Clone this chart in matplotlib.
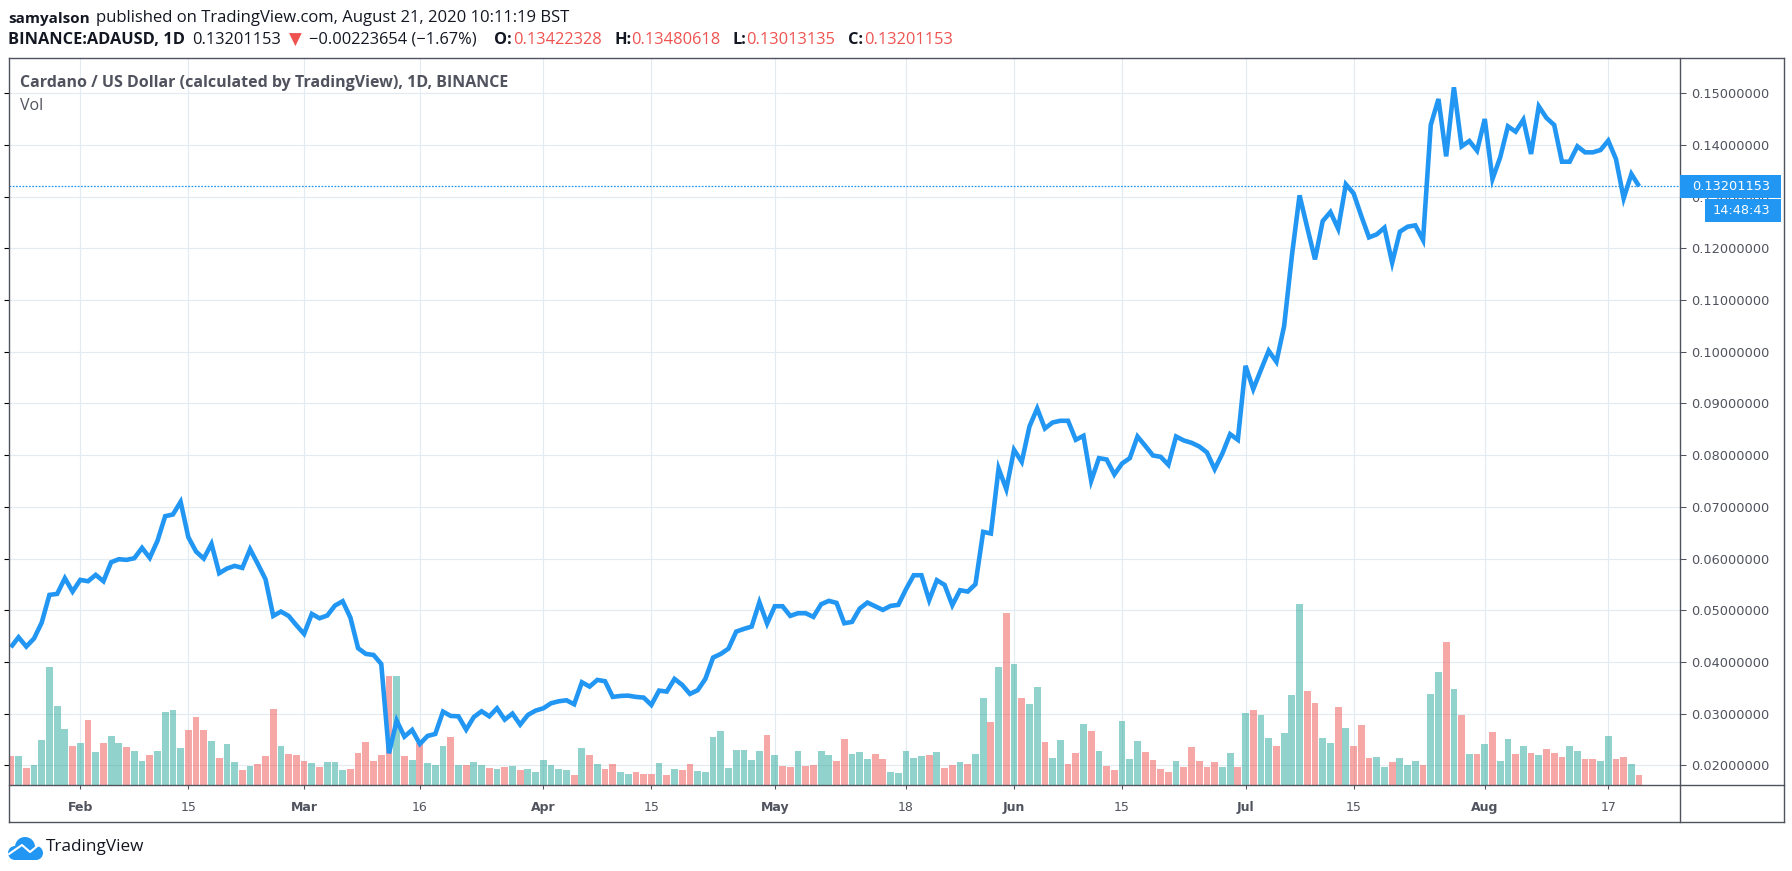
import matplotlib
matplotlib.use("Agg")
import matplotlib.pyplot as plt
import matplotlib.dates as mdates
from matplotlib.lines import Line2D
from matplotlib.patches import Rectangle, Circle
import pandas as pd

W, H = 1792, 871

price = [
0.04284,0.04477,0.04297,0.04452,0.04761,0.05297,0.05316,0.05619,0.05361,0.05587,
0.05561,0.05684,0.05561,0.05929,0.05987,0.05974,0.06006,0.06206,0.06013,0.06342,
0.06819,0.06852,0.07097,0.06413,0.06135,0.06000,0.06284,0.05716,0.05806,0.05858,
0.05819,0.06181,0.05897,0.05600,0.04890,0.04974,0.04890,0.04710,0.04542,0.04929,
0.04845,0.04897,0.05090,0.05174,0.04858,0.04265,0.04155,0.04135,0.03961,0.02232,
0.02865,0.02555,0.02684,0.02413,0.02568,0.02606,0.03039,0.02955,0.02948,0.02690,
0.02935,0.03045,0.02948,0.03103,0.02884,0.03000,0.02787,0.02974,0.03058,0.03103,
0.03200,0.03239,0.03258,0.03181,0.03606,0.03523,0.03652,0.03626,0.03323,0.03342,
0.03348,0.03323,0.03310,0.03168,0.03445,0.03426,0.03671,0.03555,0.03381,0.03452,
0.03671,0.04084,0.04155,0.04258,0.04587,0.04639,0.04684,0.05155,0.04742,0.05077,
0.05077,0.04890,0.04942,0.04942,0.04871,0.05116,0.05181,0.05142,0.04748,0.04774,
0.05032,0.05148,0.05077,0.05006,0.05084,0.05103,0.05406,0.05677,0.05677,0.05194,
0.05581,0.05490,0.05097,0.05387,0.05361,0.05503,0.06516,0.06484,0.07742,0.07342,
0.08103,0.07871,0.08555,0.08903,0.08516,0.08632,0.08665,0.08665,0.08297,0.08374,
0.07503,0.07942,0.07916,0.07626,0.07839,0.07942,0.08361,0.08181,0.07994,0.07968,
0.07813,0.08361,0.08284,0.08239,0.08168,0.08052,0.07729,0.08032,0.08406,0.08297,
0.09729,0.09277,0.09652,0.10019,0.09806,0.10497,0.11852,0.13026,0.12400,0.11787,
0.12529,0.12703,0.12381,0.13239,0.13065,0.12626,0.12213,0.12271,0.12400,0.11723,
0.12323,0.12419,0.12445,0.12161,0.14387,0.14890,0.13780,0.15116,0.13974,0.14077,
0.13890,0.14503,0.13342,0.13761,0.14361,0.14258,0.14490,0.13826,0.14748,0.14523,
0.14387,0.13677,0.13677,0.13974,0.13858,0.13858,0.13903,0.14084,0.13729,0.12968,
0.13439,0.13201153,
]

volume = [
88,88,52,61,136,355,238,169,118,127,
196,100,127,148,127,115,103,73,91,103,
220,226,112,166,205,166,133,82,124,70,
46,58,64,88,229,118,94,91,73,67,
55,70,70,46,49,97,130,73,91,328,
328,88,76,126,67,61,118,145,61,61,
70,61,52,49,55,58,46,49,40,76,
61,49,46,31,112,91,64,49,64,40,
34,40,34,34,67,31,49,46,64,43,
40,145,163,52,106,106,76,103,151,91,
58,55,103,58,61,103,91,73,139,94,
100,79,94,79,40,37,103,82,88,91,
100,52,61,70,64,94,262,190,355,517,
364,262,244,295,130,82,136,64,97,184,
163,103,58,46,193,79,133,100,76,49,
40,73,55,115,73,55,70,55,97,55,
217,226,211,142,118,157,271,544,283,247,
142,127,235,172,118,181,82,85,55,70,
82,61,73,61,274,340,430,289,211,94,
94,124,160,73,139,94,118,97,91,109,
97,85,118,103,79,79,73,148,79,85,
64,31,
]

direction = list(
"rgrgggggrg" "rgrggrggrg" "gggrrrgrgg" "rgrrrgrrrg"
"rgggrrrrrr" "grgrgggrgr" "ggrgrgrggg" "gggrgrgrrg"
"grrrgrgrrg" "ggggggggrg" "rrgrrggrrg" "ggrrgggggr"
"grrgrggrgr" "grggrggrrg" "rgrrgggrrr" "rgrrrrrggr"
"grggrgggrr" "ggrgrrrggr" "gggrggrgrg" "rgrggrgrgr"
"rrggrrggrr" "gr"
)

y_ticks = [0.02,0.03,0.04,0.05,0.06,0.07,0.08,0.09,0.10,0.11,0.12,0.13,0.14,0.15]
x_tick_dates = ["2020-02-01","2020-02-15","2020-03-01","2020-03-16","2020-04-01",
                "2020-04-15","2020-05-01","2020-05-18","2020-06-01","2020-06-15",
                "2020-07-01","2020-07-15","2020-08-01","2020-08-17"]
x_tick_labels = ["Feb","15","Mar","16","Apr","15","May","18","Jun","15","Jul","15","Aug","17"]
bold_labels = {"Feb","Mar","Apr","May","Jun","Jul","Aug"}

BLUE = "#2196f3"
TEXT = "#50535e"
DARK = "#131722"
RED = "#ef5350"
GRID = "#e2ebf1"
FRAME = "#50535e"
UI = "Open Sans"

def fx(x): return x / W
def fy(y): return 1 - y / H

fig = plt.figure(figsize=(W/100, H/100), dpi=100, facecolor="white")
rect = [fx(8.5), fy(785), fx(1680) - fx(8.5), fy(58) - fy(785)]

dates = pd.date_range("2020-01-23", periods=len(price))
xs = mdates.date2num(dates)
xlim = (xs[0] - 0.304, xs[0] + 216.3)
ylim = (0.01619, 0.15683)

ax = fig.add_axes(rect, zorder=1)
ax.set_xlim(*xlim); ax.set_ylim(*ylim)
ax.set_xticks(mdates.date2num(pd.to_datetime(x_tick_dates)))
ax.set_xticklabels(x_tick_labels)
ax.set_yticks(y_ticks)
ax.grid(True, color=GRID, lw=0.8)
ax.set_axisbelow(True)
ax.tick_params(axis="x", length=3.2, width=0.75, color=FRAME, labelcolor=TEXT, pad=8, labelsize=9)
ax.tick_params(axis="y", left=False, labelleft=False)
for t in ax.get_xticklabels():
    t.set_family("DejaVu Sans")
    if t.get_text() in bold_labels:
        t.set_fontweight("bold")
for s in ax.spines.values():
    s.set_visible(False)

vol = ax.twinx()
vol.set_zorder(2); vol.patch.set_visible(False)
vol.set_ylim(0, 2181)
vol.bar(xs, volume, width=0.88,
        color=["#26a69a" if d == "g" else "#ef5350" for d in direction],
        alpha=0.5, linewidth=0)
vol.set_yticks([]); vol.tick_params(right=False, labelright=False)
for s in vol.spines.values():
    s.set_visible(False)

pax = ax.twinx()
pax.set_zorder(3); pax.patch.set_visible(False)
pax.set_ylim(*ylim)
pax.plot(xs, price, color=BLUE, lw=3.3, solid_joinstyle="miter", solid_capstyle="butt")
pax.axhline(price[-1], color=BLUE, lw=0.9, ls=(0, (1.4, 1.2)))
pax.set_yticks(y_ticks)
pax.set_yticklabels([f"{v:.8f}" for v in y_ticks], family="DejaVu Sans")
pax.tick_params(axis="y", length=4.2, width=0.75, color=FRAME, labelcolor=TEXT, pad=4, labelsize=9.3)
for s in pax.spines.values():
    s.set_visible(False)

for x0, y0, x1, y1 in [(8.5,58.5,1783.5,58.5),(8.5,58.5,8.5,822),(1783.5,58.5,1783.5,822),
                       (8.5,822,1783.5,822),(1680,58.5,1680,822),(8.5,785,1783.5,785)]:
    fig.add_artist(Line2D([fx(x0),fx(x1)],[fy(y0),fy(y1)],color=FRAME,lw=1.0,zorder=4,
                          transform=fig.transFigure))

fig.add_artist(Rectangle((fx(1680),fy(197.7)),fx(101),fy(175)-fy(197.7),color=BLUE,lw=0,zorder=5,transform=fig.transFigure))
fig.add_artist(Rectangle((fx(1705),fy(221.7)),fx(76),fy(199.3)-fy(221.7),color=BLUE,lw=0,zorder=5,transform=fig.transFigure))
fig.text(fx(1770),fy(186),"0.13201153",color="white",family="DejaVu Sans",size=9.3,ha="right",va="center",zorder=6)
fig.text(fx(1770),fy(210),"14:48:43",color="white",family="DejaVu Sans",size=9.3,ha="right",va="center",zorder=6)

def put(x, y, s, color=DARK, weight="normal", size=11.8, family=UI):
    fig.text(fx(x), fy(y), s, color=color, fontweight=weight, fontsize=size, family=family, ha="left", va="center", zorder=6)

put(8, 18.5, "samyalson", weight="bold", size=11.0)
put(96, 18.5, "published on TradingView.com, August 21, 2020 10:11:19 BST", size=11.95)
put(8, 40, "BINANCE:ADAUSD, 1D", weight="bold")
put(192, 40, "0.13201153")
put(289, 40, "\u25bc", color=RED, family="DejaVu Sans", size=12)
put(309, 40, "\u22120.00223654 (\u22121.67%)")
for x0, lab, x1, val in [(494,"O:",513,"0.13422328"),(614,"H:",631,"0.13480618"),
                         (732,"L:",746,"0.13013135"),(848,"C:",864,"0.13201153")]:
    put(x0, 40, lab, weight="bold")
    put(x1, 40, val, color=RED)

put(20, 83, "Cardano / US Dollar (calculated by TradingView), 1D, BINANCE", color=TEXT, weight="bold", size=11.5)
put(20, 106, "Vol", color=TEXT, size=11.5)

for cx, cy, r in [(15,853,7),(25,847,10),(36,853,7)]:
    fig.add_artist(Circle((fx(cx)*W, (1-cy/H)*H), r, color=BLUE, lw=0, zorder=5, transform=None))
fig.add_artist(Rectangle((fx(15),fy(860)),fx(21),fy(850)-fy(860),color=BLUE,lw=0,zorder=5,transform=fig.transFigure))
fig.add_artist(Line2D([fx(9),fx(22),fx(30),fx(41)],[fy(854),fy(845),fy(852),fy(843)],color="white",lw=1.5,zorder=6,transform=fig.transFigure))
put(46, 847, "TradingView", size=12.3)

fig.savefig("out.png", dpi=100, facecolor="white")
